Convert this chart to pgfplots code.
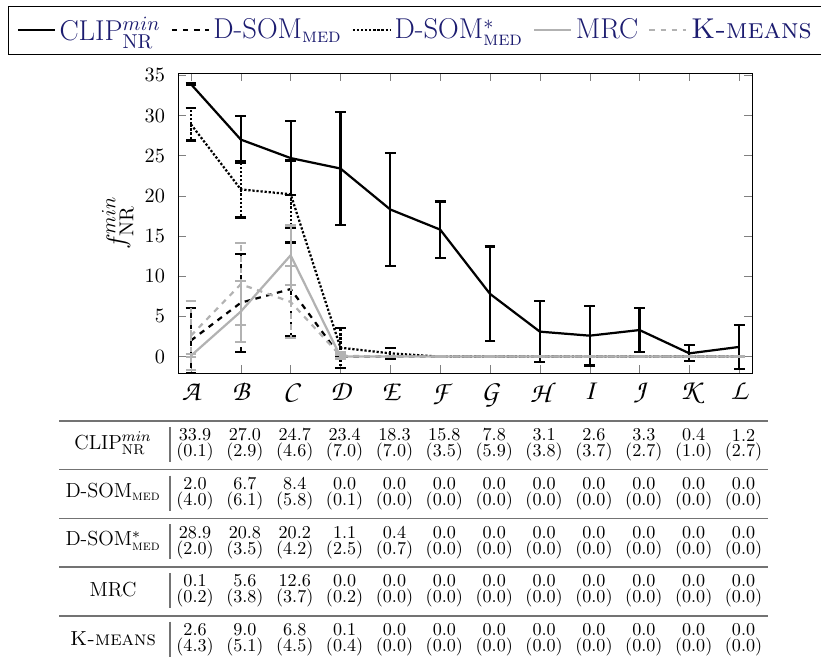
\documentclass[border=0pt]{standalone}
\usepackage{amsmath}
\usepackage{fontspec}
\newfontfamily\chorus{TeX Gyre Chorus}
\usepackage{pgfplots}
\usepackage{pgfplotstable}
\pgfplotsset{compat=1.18}
\definecolor{legblue}{RGB}{28,28,112}
\definecolor{lgray}{RGB}{178,178,178}

\pgfplotstableread{
x y e
0 33.9 0.1
1 27.0 2.9
2 24.7 4.6
3 23.4 7.0
4 18.3 7.0
5 15.8 3.5
6 7.8 5.9
7 3.1 3.8
8 2.6 3.7
9 3.3 2.7
10 0.4 1.0
11 1.2 2.7
}\clip
\pgfplotstableread{
x y e
0 2.0 4.0
1 6.7 6.1
2 8.4 5.8
3 0.0 0.1
4 0.0 0.0
5 0.0 0.0
6 0.0 0.0
7 0.0 0.0
8 0.0 0.0
9 0.0 0.0
10 0.0 0.0
11 0.0 0.0
}\dsom
\pgfplotstableread{
x y e
0 28.9 2.0
1 20.8 3.5
2 20.2 4.2
3 1.1 2.5
4 0.4 0.7
5 0.0 0.0
6 0.0 0.0
7 0.0 0.0
8 0.0 0.0
9 0.0 0.0
10 0.0 0.0
11 0.0 0.0
}\dsomstar
\pgfplotstableread{
x y e
0 0.1 0.2
1 5.6 3.8
2 12.6 3.7
3 0.0 0.2
4 0.0 0.0
5 0.0 0.0
6 0.0 0.0
7 0.0 0.0
8 0.0 0.0
9 0.0 0.0
10 0.0 0.0
11 0.0 0.0
}\mrc
\pgfplotstableread{
x y e
0 2.6 4.3
1 9.0 5.1
2 6.8 4.5
3 0.1 0.4
4 0.0 0.0
5 0.0 0.0
6 0.0 0.0
7 0.0 0.0
8 0.0 0.0
9 0.0 0.0
10 0.0 0.0
11 0.0 0.0
}\kmeans

\begin{document}
\begin{tikzpicture}
\begin{axis}[
  scale only axis,
  width=310.3pt, height=162.2pt,
  xmin=-0.26, xmax=11.26,
  ymin=-2.05, ymax=35.3,
  xtick={0,...,11},
  xticklabels={A,B,C,D,E,F,G,H,I,J,K,L},
  xticklabel style={font=\fontsize{15.5}{17}\chorus, yshift=-2pt},
  ytick={0,5,...,35},
  yticklabel style={font=\fontsize{11.2}{13}\selectfont, xshift=-3.5pt},
  ylabel={$f^{min}_{\mathrm{NR}}$},
  ylabel style={font=\fontsize{15.5}{17}\selectfont, yshift=-1pt},
  legend columns=-1,
  legend image code/.code={\draw[#1] (0cm,0cm) -- (0.7cm,0cm);},
  legend style={at={(-0.296,1.223)}, anchor=north west, draw=black,
    font=\fontsize{15.5}{18}\selectfont, text=legblue, inner ysep=4pt, inner xsep=4.5pt,
    /tikz/every even column/.append style={column sep=3.5pt}},
  every axis plot/.append style={line width=1.2pt},
  error bars/error bar style={line width=1.2pt},
  error bars/error mark options={rotate=90, mark size=2.9pt, solid, line width=1.2pt},
]
\addplot[black, solid] plot[error bars/.cd, y dir=both, y explicit] table[x=x, y=y, y error=e] {\clip};
\addlegendentry{CLIP$^{min}_{\mathrm{NR}}$}
\addplot[black, dashed] plot[error bars/.cd, y dir=both, y explicit] table[x=x, y=y, y error=e] {\dsom};
\addlegendentry{D-SOM$_{\textsc{med}}$}
\addplot[black, densely dotted] plot[error bars/.cd, y dir=both, y explicit] table[x=x, y=y, y error=e] {\dsomstar};
\addlegendentry{D-SOM$^{*}_{\textsc{med}}$}
\addplot[lgray, solid] plot[error bars/.cd, y dir=both, y explicit] table[x=x, y=y, y error=e] {\mrc};
\addlegendentry{MRC}
\addplot[lgray, dashed] plot[error bars/.cd, y dir=both, y explicit] table[x=x, y=y, y error=e] {\kmeans};
\addlegendentry{\textsc{K-means}}
\end{axis}

% table below the plot
\foreach \r in {0,...,4} {
  \draw[black!55, line width=0.8pt] (-64.3pt,{-25.9pt-26.32pt*\r}) -- (318.9pt,{-25.9pt-26.32pt*\r});
  \draw[black!55, line width=0.6pt] (-4.3pt,{-29.1pt-26.32pt*\r}) -- (-4.3pt,{-48.1pt-26.32pt*\r});
}
\tikzset{lab/.style={font=\fontsize{11}{13}\selectfont, inner sep=0pt},
         val/.style={font=\fontsize{9.8}{11}\selectfont, inner sep=0pt}}
\node[lab] at (-35.1pt,-38.1pt) {CLIP$^{min}_{\mathrm{NR}}$};
\node[lab] at (-35.1pt,-64.4pt) {D-SOM$_{\textsc{med}}$};
\node[lab] at (-35.1pt,-90.7pt) {D-SOM$^{*}_{\textsc{med}}$};
\node[lab] at (-35.1pt,-117.1pt) {MRC};
\node[lab] at (-35.1pt,-143.4pt) {\textsc{K-means}};
\foreach \rr/\vals in {0/{33.9/0.1,27.0/2.9,24.7/4.6,23.4/7.0,18.3/7.0,15.8/3.5,7.8/5.9,3.1/3.8,2.6/3.7,3.3/2.7,0.4/1.0,1.2/2.7},
  1/{2.0/4.0,6.7/6.1,8.4/5.8,0.0/0.1,0.0/0.0,0.0/0.0,0.0/0.0,0.0/0.0,0.0/0.0,0.0/0.0,0.0/0.0,0.0/0.0},
  2/{28.9/2.0,20.8/3.5,20.2/4.2,1.1/2.5,0.4/0.7,0.0/0.0,0.0/0.0,0.0/0.0,0.0/0.0,0.0/0.0,0.0/0.0,0.0/0.0},
  3/{0.1/0.2,5.6/3.8,12.6/3.7,0.0/0.2,0.0/0.0,0.0/0.0,0.0/0.0,0.0/0.0,0.0/0.0,0.0/0.0,0.0/0.0,0.0/0.0},
  4/{2.6/4.3,9.0/5.1,6.8/4.5,0.1/0.4,0.0/0.0,0.0/0.0,0.0/0.0,0.0/0.0,0.0/0.0,0.0/0.0,0.0/0.0,0.0/0.0}} {
  \foreach \v/\s [count=\i from 0] in \vals {
    \node[val] at ({9.2pt+26.95pt*\i},{-33.5pt-26.32pt*\rr}) {\v};
    \node[val] at ({9.2pt+26.95pt*\i},{-42.8pt-26.32pt*\rr}) {(\s)};
  }
}
\pgfresetboundingbox
\path[use as bounding box] (-96.2pt,-157.3pt) rectangle (347.5pt,201.6pt);
\end{tikzpicture}
\end{document}
